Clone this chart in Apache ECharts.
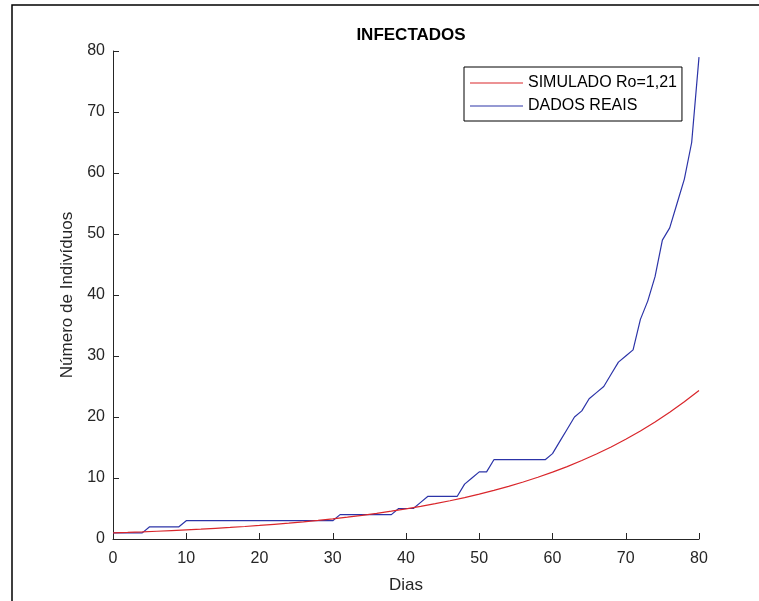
<!DOCTYPE html>
<html>
<head>
<meta charset="utf-8">
<script src="https://cdn.jsdelivr.net/npm/echarts@6/dist/echarts.min.js"></script>
<style>
  html, body { margin: 0; padding: 0; background: #fff; }
  #chart { width: 759px; height: 601px; }
</style>
</head>
<body>
<div id="chart"></div>
<script>
// dados
const dayTicks = ['0', '10', '20', '30', '40', '50', '60', '70', '80'];
const realValues = [
  1, 1, 1, 1, 1,
  2, 2, 2, 2, 2,
  3, 3, 3, 3, 3, 3, 3, 3, 3, 3, 3, 3, 3, 3, 3, 3, 3, 3, 3, 3, 3,
  4, 4, 4, 4, 4, 4, 4, 4,
  5, 5, 5,
  6,
  7, 7, 7, 7, 7,
  9, 10, 11, 11,
  13, 13, 13, 13, 13, 13, 13, 13,
  14, 16, 18, 20, 21, 23, 24, 25, 27, 29, 30, 31, 36, 39, 43, 49, 51, 55, 59, 65, 79
];
// curva simulada, lida a cada 2 dias
const simDays = [0, 2, 4, 6, 8, 10, 12, 14, 16, 18, 20, 22, 24, 26, 28, 30, 32, 34, 36, 38, 40,
  42, 44, 46, 48, 50, 52, 54, 56, 58, 60, 62, 64, 66, 68, 70, 72, 74, 76, 78, 80];
const simValues = [1.0, 1.08, 1.17, 1.27, 1.38, 1.49, 1.61, 1.75, 1.89, 2.05, 2.22,
  2.41, 2.6, 2.82, 3.06, 3.31, 3.59, 3.88, 4.21, 4.56, 4.93,
  5.34, 5.79, 6.27, 6.79, 7.35, 7.96, 8.63, 9.34, 10.12, 10.96,
  11.87, 12.86, 13.93, 15.09, 16.34, 17.7, 19.17, 20.77, 22.49, 24.36];

const chart = echarts.init(document.getElementById('chart'));
const font = 'Liberation Sans, Arial, sans-serif';

var option = {
  backgroundColor: '#fff',
  animation: false,
  title: {
    text: 'INFECTADOS',
    left: 406,
    top: 22,
    textAlign: 'center',
    textStyle: { fontFamily: font, fontSize: 17, fontWeight: 'bold', color: '#000' }
  },
  graphic: [{
    type: 'rect',
    shape: { x: 12, y: 5, width: 800, height: 700 },
    style: { fill: 'none', stroke: '#000', lineWidth: 1.5 },
    silent: true
  }],
  legend: {
    orient: 'vertical',
    left: 464,
    top: 67,
    padding: [8, 5, 7, 6],
    itemGap: 7,
    itemWidth: 53,
    itemHeight: 1,
    borderColor: '#000',
    borderWidth: 1,
    backgroundColor: '#fff',
    textStyle: { fontFamily: font, fontSize: 16, color: '#000', lineHeight: 14 },
    data: [
      { name: 'SIMULADO Ro=1,21', icon: 'rect' },
      { name: 'DADOS REAIS', icon: 'rect' }
    ]
  },
  grid: { left: 113, right: 60, top: 51, bottom: 62 },
  xAxis: {
    type: 'value',
    min: 0,
    max: 80,
    interval: 10,
    name: 'Dias',
    nameLocation: 'middle',
    nameGap: 38,
    nameTextStyle: { fontFamily: font, fontSize: 17, color: '#262626' },
    axisLine: { lineStyle: { color: '#262626', width: 1 } },
    axisTick: { inside: true, length: 6, lineStyle: { color: '#262626' } },
    axisLabel: {
      fontFamily: font, fontSize: 16, color: '#262626', margin: 12,
      formatter: function (v) { return dayTicks[v / 10]; }
    },
    splitLine: { show: false }
  },
  yAxis: {
    type: 'value',
    min: 0,
    max: 80,
    interval: 10,
    name: 'Número de Indivíduos',
    nameLocation: 'middle',
    nameGap: 37,
    nameTextStyle: { fontFamily: font, fontSize: 17, color: '#262626' },
    axisLine: { show: true, lineStyle: { color: '#262626', width: 1 } },
    axisTick: { show: true, inside: true, length: 6, lineStyle: { color: '#262626' } },
    axisLabel: { fontFamily: font, fontSize: 16, color: '#262626', margin: 8 },
    splitLine: { show: false }
  },
  series: [{
    name: 'SIMULADO Ro=1,21',
    type: 'line',
    showSymbol: false,
    color: '#d9262b',
    lineStyle: { width: 1.2 },
    data: simDays.map((d, i) => [d, simValues[i]]),
    z: 3
  }, {
    name: 'DADOS REAIS',
    type: 'line',
    showSymbol: false,
    color: '#2c34a8',
    lineStyle: { width: 1.2 },
    data: realValues.map((v, i) => [i, v]),
    z: 2
  }]
};
chart.setOption(option);
</script>
</body>
</html>
